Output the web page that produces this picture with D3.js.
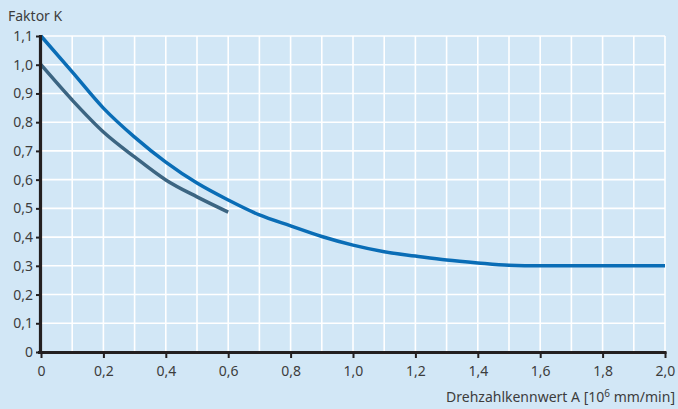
<!DOCTYPE html>
<html><head><meta charset="utf-8">
<script src="https://cdn.jsdelivr.net/npm/d3@7"></script>
<style>
html,body{margin:0;padding:0;background:#d2e7f6;}
svg{display:block;font-family:"Noto Sans","Open Sans",sans-serif;}
</style></head><body>
<svg id="c" width="678" height="409"></svg>
<script>
const xUpper = [0,0.1,0.2,0.3,0.4,0.5,0.6,0.7,0.8,0.9,1.0,1.1,1.2,1.3,1.4,1.5,1.6,1.8,2.0];
const kUpper = [1.1,0.975,0.849,0.748,0.661,0.588,0.529,0.477,0.439,0.402,0.372,0.349,0.334,0.320,0.310,0.302,0.300,0.300,0.300];
const xLower = [0,0.1,0.2,0.3,0.4,0.5,0.6];
const kLower = [1.0,0.877,0.766,0.679,0.599,0.540,0.487];
const xTicks = [0,0.2,0.4,0.6,0.8,1.0,1.2,1.4,1.6,1.8,2.0];
const yTicks = [0,0.1,0.2,0.3,0.4,0.5,0.6,0.7,0.8,0.9,1.0,1.1];
const yTitle = "Faktor K";
const xTitle = "Drehzahlkennwert A [10";

const svg = d3.select("#c");
svg.append("rect").attr("width",678).attr("height",409).attr("fill","#d2e7f6");
const x = d3.scaleLinear().domain([0,2]).range([41,665]);
const y = d3.scaleLinear().domain([0,1.1]).range([352,36]);
const fmt = d => d === 0 ? "0" : d3.format(".1f")(d).replace(".", ",");

// grid
const g = svg.append("g");
d3.range(1,21).map(i=>i/10).forEach(v=>{
  g.append("line").attr("x1",x(v)).attr("x2",x(v)).attr("y1",y(0)).attr("y2",y(1.1))
   .attr("stroke","#fff").attr("stroke-width",1.6);
});
d3.range(1,12).map(i=>i/10).forEach(v=>{
  g.append("line").attr("x1",x(0)).attr("x2",x(2)).attr("y1",y(v)).attr("y2",y(v))
   .attr("stroke","#fff").attr("stroke-width",1.6);
});

// lines
const line = d3.line().curve(d3.curveMonotoneX);
svg.append("path").attr("d", line(xLower.map((v,i)=>[x(v),y(kLower[i])])))
  .attr("fill","none").attr("stroke","#3c6582").attr("stroke-width",3.5);
svg.append("path").attr("d", line(xUpper.map((v,i)=>[x(v),y(kUpper[i])])))
  .attr("fill","none").attr("stroke","#0a6db6").attr("stroke-width",3.5);

// axes
const xa = svg.append("g").attr("transform",`translate(0,${y(0)})`)
  .call(d3.axisBottom(x).tickValues(xTicks).tickFormat(fmt).tickSize(6).tickSizeOuter(0));
const ya = svg.append("g").attr("transform",`translate(${x(0)},0)`)
  .call(d3.axisLeft(y).tickValues(yTicks).tickFormat(fmt).tickSize(5).tickSizeOuter(0));
[xa,ya].forEach(a=>{
  a.select(".domain").attr("stroke","#231f20").attr("stroke-width",3.2);
  a.selectAll(".tick line").attr("stroke","#231f20").attr("stroke-width",2);
  a.selectAll("text").attr("fill","#3d3d3d").attr("font-size",14).attr("font-family","'Noto Sans',sans-serif");
});
xa.select(".domain").attr("d",`M${x(0)-3},0.5H${x(2)+1.5}`);
ya.select(".domain").attr("d",`M-0.5,${y(1.1)-1}V${y(0)+1.5}`);
xa.selectAll(".tick text").attr("dy","1.1em");
ya.selectAll(".tick text").attr("x",-8);

svg.append("text").attr("x",8).attr("y",21).attr("fill","#3d3d3d").attr("font-size",14).text(yTitle);
const t = svg.append("text").attr("x",675).attr("y",402).attr("text-anchor","end").attr("fill","#3d3d3d").attr("font-size",14);
t.append("tspan").text(xTitle);
t.append("tspan").attr("dy",-5).attr("font-size",10).text("6");
t.append("tspan").attr("dy",5).text(" mm/min]");
</script>
</body></html>
